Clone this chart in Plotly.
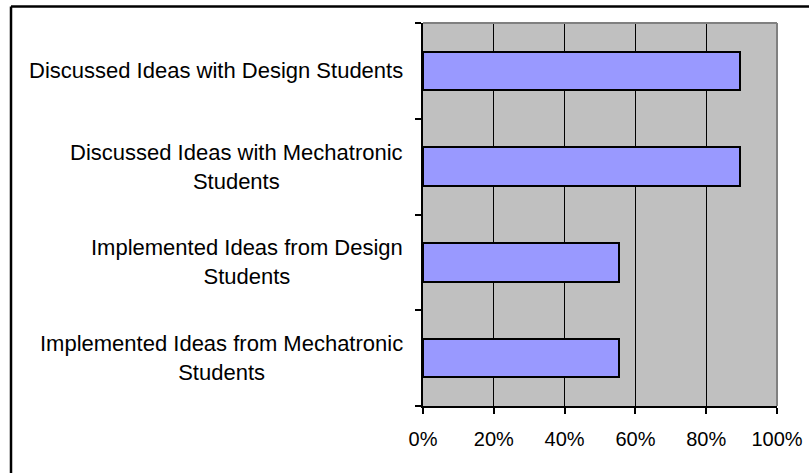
import plotly.graph_objects as go

# Survey items (top to bottom) and share of respondents
categories = [
    "Discussed Ideas with Design Students",
    "Discussed Ideas with Mechatronic<br>Students",
    "Implemented Ideas from Design<br>Students",
    "Implemented Ideas from Mechatronic<br>Students",
]
shares = [0.895, 0.895, 0.555, 0.555]
x_ticks = [0, 0.2, 0.4, 0.6, 0.8, 1.0]
x_tick_labels = ["0%", "20%", "40%", "60%", "80%", "100%"]

FONT = "Liberation Sans, Arial, sans-serif"
W, H = 809, 473
L, R, T, B = 423, 32, 23, 66.5
pw, ph = W - L - R, H - T - B

fig = go.Figure(
    go.Bar(
        y=list(range(len(categories))),
        x=shares,
        orientation="h",
        width=0.4,
        marker=dict(color="#9999FF", line=dict(color="black", width=2)),
        hoverinfo="x",
    )
)

fig.update_layout(
    width=W,
    height=H,
    margin=dict(l=L, r=R, t=T, b=B, pad=0),
    paper_bgcolor="white",
    plot_bgcolor="#C0C0C0",
    showlegend=False,
    font=dict(family=FONT, color="black"),
    bargap=0,
)

fig.update_xaxes(
    automargin=False,
    range=[0, 1],
    tickvals=x_ticks,
    ticktext=x_tick_labels,
    tickfont=dict(size=20, family=FONT, color="black"),
    ticklabelstandoff=8,
    showgrid=True,
    gridcolor="black",
    gridwidth=1,
    showline=True,
    linecolor="black",
    linewidth=2,
    ticks="outside",
    ticklen=6,
    tickwidth=2,
    tickcolor="black",
    zeroline=False,
    fixedrange=True,
)

fig.update_yaxes(
    automargin=False,
    range=[len(categories) - 0.5, -0.5],
    tickvals=[i - 0.5 for i in range(len(categories) + 1)],
    showticklabels=False,
    showgrid=False,
    showline=True,
    linecolor="black",
    linewidth=2,
    ticks="outside",
    ticklen=6,
    tickwidth=2,
    tickcolor="black",
    zeroline=False,
    fixedrange=True,
)

# Category labels, each line centred within its block
for i, label in enumerate(categories):
    fig.add_annotation(
        x=0, xref="paper", y=i, yref="y",
        text=label, showarrow=False,
        xanchor="right", yanchor="middle", align="center",
        xshift=-18,
        font=dict(size=22, family=FONT, color="black"),
    )

# Grey plot-area frame on top and right
fig.add_shape(type="line", xref="paper", yref="paper", x0=0, x1=1, y0=1, y1=1,
              line=dict(color="#808080", width=2))
fig.add_shape(type="line", xref="paper", yref="paper", x0=1, x1=1, y0=0, y1=1,
              line=dict(color="#808080", width=2))

# Chart-area border (left and top edges)
bx = (11 - L) / pw
by = (H - B - 6.5) / ph
fig.add_shape(type="line", xref="paper", yref="paper", x0=bx, x1=bx, y0=by, y1=-0.3,
              line=dict(color="black", width=2.5))
fig.add_shape(type="line", xref="paper", yref="paper", x0=bx, x1=1.2, y0=by, y1=by,
              line=dict(color="black", width=2.5))

fig.write_html("out.html")
